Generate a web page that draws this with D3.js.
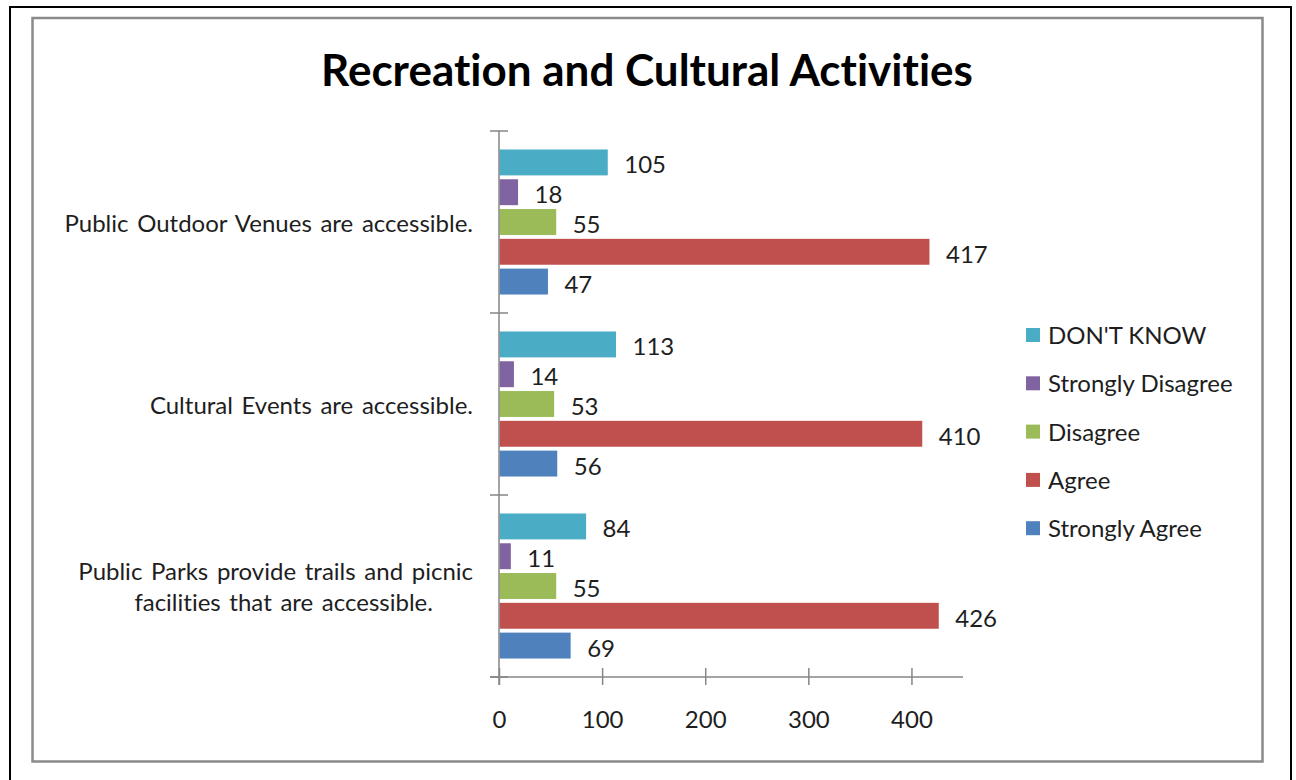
<!DOCTYPE html>
<html>
<head>
<meta charset="utf-8">
<script src="https://cdn.jsdelivr.net/npm/d3@7"></script>
<style>
  html, body { margin: 0; padding: 0; background: #fff; }
  svg { display: block; }
  text { font-family: Lato, "Open Sans", sans-serif; fill: #1e1e1e; font-variant-ligatures: none; }
</style>
</head>
<body>
<svg id="chart" width="1296" height="780"></svg>
<script>
// Survey responses per statement
const categories = [
  "Public Outdoor Venues are accessible.",
  "Cultural Events are accessible.",
  "Public Parks provide trails and picnic facilities that are accessible."
];
const categoryLines = [
  ["Public Outdoor Venues are accessible."],
  ["Cultural Events are accessible."],
  ["Public Parks provide trails and picnic", "facilities that are accessible."]
];
const seriesNames = ["DON'T KNOW", "Strongly Disagree", "Disagree", "Agree", "Strongly Agree"];
const seriesColors = ["#4BACC6", "#8064A2", "#9BBB59", "#C0504D", "#4F81BD"];
const dontKnow = [105, 113, 84];
const stronglyDisagree = [18, 14, 11];
const disagree = [55, 53, 55];
const agree = [417, 410, 426];
const stronglyAgree = [47, 56, 69];
const xTicks = [0, 100, 200, 300, 400];
const xMax = 450;
const title = "Recreation and Cultural Activities";

const seriesValues = [dontKnow, stronglyDisagree, disagree, agree, stronglyAgree];

const svg = d3.select("#chart");

// Frames
svg.append("rect").attr("x", 10).attr("y", 7).attr("width", 1281).attr("height", 800)
  .attr("fill", "none").attr("stroke", "#000").attr("stroke-width", 2);
svg.append("rect").attr("x", 32.5).attr("y", 18).attr("width", 1230).attr("height", 743.5)
  .attr("fill", "#fff").attr("stroke", "#8a8a8a").attr("stroke-width", 2.5);

// Title
svg.append("text").attr("x", 647).attr("y", 86).attr("text-anchor", "middle")
  .style("font-size", "44px").style("font-weight", 700).style("fill", "#000")
  .text(title);

// Scales
const x = d3.scaleLinear().domain([0, xMax]).range([499, 963]);
const y = d3.scaleBand().domain(categories).range([131, 677]);
const ySub = d3.scaleBand().domain(seriesNames).range([0, y.bandwidth()])
  .paddingInner(0.13).paddingOuter(0.62);

const axisColor = "#868686";

// Bars and value labels
const rows = [];
categories.forEach((c, ci) => {
  seriesNames.forEach((s, si) => {
    rows.push({ cat: c, series: s, value: seriesValues[si][ci], color: seriesColors[si] });
  });
});

const plot = svg.append("g");
plot.selectAll("rect.bar").data(rows).join("rect")
  .attr("class", "bar")
  .attr("x", x(0) + 0.5)
  .attr("y", d => y(d.cat) + ySub(d.series))
  .attr("width", d => x(d.value) - x(0))
  .attr("height", ySub.bandwidth())
  .attr("fill", d => d.color);

plot.selectAll("text.val").data(rows).join("text")
  .attr("class", "val")
  .attr("x", d => x(d.value) + 17)
  .attr("y", d => y(d.cat) + ySub(d.series) + ySub.bandwidth() / 2 + 1.5)
  .attr("dominant-baseline", "central")
  .style("font-size", "24px")
  .text(d => d.value);

// X axis
const xAxis = svg.append("g").attr("transform", `translate(0,${y.range()[1]})`)
  .call(d3.axisBottom(x).tickValues(xTicks).tickSize(0).tickPadding(0));
xAxis.select(".domain").remove();
xAxis.append("line").attr("x1", 490).attr("x2", x.range()[1]).attr("y1", 0).attr("y2", 0)
  .attr("stroke", axisColor).attr("stroke-width", 1.5);
xAxis.selectAll(".tick line").attr("y1", -9).attr("y2", 8)
  .attr("stroke", axisColor).attr("stroke-width", 1.5);
xAxis.selectAll(".tick text").attr("y", 41).attr("dy", null)
  .attr("dominant-baseline", "central")
  .style("font-size", "24px").style("font-family", "Lato, sans-serif").style("fill", "#1e1e1e");

// Y axis: line with ticks at category boundaries
const yAxis = svg.append("g");
yAxis.append("line").attr("x1", x(0)).attr("x2", x(0))
  .attr("y1", y.range()[0]).attr("y2", y.range()[1] + 8)
  .attr("stroke", axisColor).attr("stroke-width", 1.5);
const boundaries = categories.map(c => y(c)).concat([y.range()[1]]);
yAxis.selectAll("line.tick").data(boundaries).join("line")
  .attr("class", "tick")
  .attr("x1", x(0) - 9).attr("x2", x(0) + 9)
  .attr("y1", d => d).attr("y2", d => d)
  .attr("stroke", axisColor).attr("stroke-width", 1.5);

// Category labels
const lineGap = 31;
categories.forEach((c, ci) => {
  const lines = categoryLines[ci];
  const cy = y(c) + y.bandwidth() / 2;
  const g = svg.append("g");
  const first = g.append("text")
    .attr("x", 473)
    .attr("y", cy - (lines.length - 1) * lineGap / 2)
    .attr("text-anchor", "end")
    .attr("dominant-baseline", "central")
    .style("font-size", "24px")
    .style("word-spacing", "2.5px")
    .text(lines[0]);
  if (lines.length > 1) {
    const w = first.node().getComputedTextLength();
    lines.slice(1).forEach((ln, li) => {
      g.append("text")
        .attr("x", 473 - w / 2 + 8)
        .attr("y", cy - (lines.length - 1) * lineGap / 2 + (li + 1) * lineGap)
        .attr("text-anchor", "middle")
        .attr("dominant-baseline", "central")
        .style("font-size", "24px")
        .style("word-spacing", "2.5px")
        .text(ln);
    });
  }
});

// Legend
const legend = svg.append("g").attr("transform", "translate(1026,335)");
const legendStep = 48.3;
const items = legend.selectAll("g").data(seriesNames).join("g")
  .attr("transform", (d, i) => `translate(0,${i * legendStep})`);
items.append("rect").attr("x", 0).attr("y", -7).attr("width", 14).attr("height", 14)
  .attr("fill", (d, i) => seriesColors[i]);
items.append("text").attr("x", 22).attr("y", -0.5)
  .attr("dominant-baseline", "central")
  .style("font-size", "24px")
  .text(d => d);
</script>
</body>
</html>
